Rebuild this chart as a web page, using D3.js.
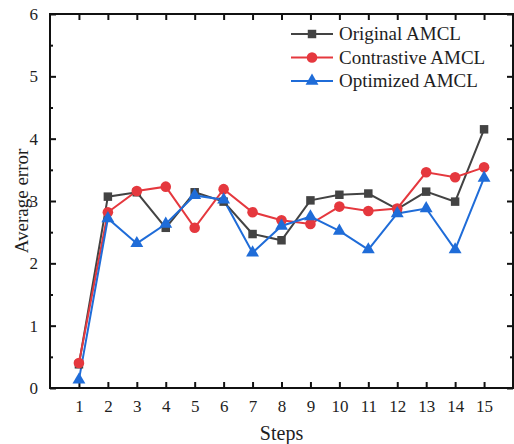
<!DOCTYPE html>
<html>
<head>
<meta charset="utf-8">
<script src="https://cdn.jsdelivr.net/npm/d3@7"></script>
<style>
  body { margin: 0; background: #fff; }
  svg text { font-family: "Liberation Serif", "Times New Roman", serif; fill: #1e1e1e; }
</style>
</head>
<body>
<svg id="chart" width="514" height="444"></svg>
<script>
const steps = d3.range(1, 16);
const originalAMCL = [0.38, 3.07, 3.14, 2.57, 3.14, 2.99, 2.47, 2.37, 3.01, 3.10, 3.12, 2.87, 3.15, 2.99, 4.15];
const contrastiveAMCL = [0.40, 2.82, 3.16, 3.23, 2.57, 3.19, 2.82, 2.69, 2.63, 2.91, 2.84, 2.88, 3.46, 3.38, 3.54];
const optimizedAMCL = [0.13, 2.72, 2.32, 2.63, 3.09, 3.02, 2.17, 2.60, 2.75, 2.52, 2.22, 2.80, 2.88, 2.22, 3.37];
const yTicks = [0, 1, 2, 3, 4, 5, 6];

const series = [
  { name: "Original AMCL", values: originalAMCL, color: "#434343", symbol: d3.symbolSquare, size: 72 },
  { name: "Contrastive AMCL", values: contrastiveAMCL, color: "#e5383e", symbol: d3.symbolCircle, size: 88 },
  { name: "Optimized AMCL", values: optimizedAMCL, color: "#1f6cd8", symbol: d3.symbolTriangle, size: 72 }
];

const margin = { top: 14, right: 1, bottom: 56, left: 50 };
const svg = d3.select("#chart");
const width = 514 - margin.left - margin.right;
const height = 444 - margin.top - margin.bottom;
const g = svg.append("g").attr("transform", `translate(${margin.left},${margin.top})`);

const x = d3.scaleLinear().domain([0, 16]).range([0, width]);
const y = d3.scaleLinear().domain([0, 6]).range([height, 0]);

// frame round the plot
g.append("rect")
  .attr("width", width).attr("height", height)
  .attr("fill", "none").attr("stroke", "#111").attr("stroke-width", 2);

const tickStyle = (sel) => {
  sel.select(".domain").remove();
  sel.selectAll("line").attr("stroke", "#111").attr("stroke-width", 2);
  sel.selectAll("text").attr("font-family", null);
};

// bottom axis, ticks pointing inward
g.append("g")
  .attr("transform", `translate(0,${height})`)
  .call(d3.axisBottom(x).tickValues(steps).tickSizeInner(-6).tickPadding(12).tickFormat(d3.format("d")))
  .call(tickStyle)
  .selectAll("text").style("font-size", "17px").attr("fill", "#1e1e1e");

// top mirror ticks
g.append("g")
  .call(d3.axisTop(x).tickValues(steps).tickSizeInner(-6).tickFormat(""))
  .call(tickStyle);

// left axis + minor ticks
g.append("g")
  .call(d3.axisLeft(y).tickValues(yTicks).tickSizeInner(-6).tickPadding(12).tickFormat(d3.format("d")))
  .call(tickStyle)
  .selectAll("text").style("font-size", "17px").attr("fill", "#1e1e1e");

g.append("g")
  .call(d3.axisLeft(y).tickValues(d3.range(0.5, 6, 1)).tickSizeInner(-3).tickFormat(""))
  .call(tickStyle);

// right mirror ticks
g.append("g")
  .attr("transform", `translate(${width},0)`)
  .call(d3.axisRight(y).tickValues(yTicks).tickSizeInner(-6).tickFormat(""))
  .call(tickStyle);
g.append("g")
  .attr("transform", `translate(${width},0)`)
  .call(d3.axisRight(y).tickValues(d3.range(0.5, 6, 1)).tickSizeInner(-3).tickFormat(""))
  .call(tickStyle);

// axis titles
svg.append("text")
  .attr("x", margin.left + x(8)).attr("y", 440)
  .attr("text-anchor", "middle").style("font-size", "20px")
  .text("Steps");

svg.append("text")
  .attr("transform", `translate(28,${margin.top + height / 2}) rotate(-90)`)
  .attr("text-anchor", "middle").style("font-size", "19px")
  .text("Average error");

// lines, then markers on top
const line = d3.line().x((d, i) => x(steps[i])).y((d) => y(d));

series.forEach((s) => {
  g.append("path")
    .datum(s.values)
    .attr("fill", "none")
    .attr("stroke", s.color)
    .attr("stroke-width", 2)
    .attr("d", line);
});

series.forEach((s) => {
  g.selectAll(null)
    .data(s.values)
    .enter()
    .append("path")
    .attr("d", d3.symbol().type(s.symbol).size(s.size))
    .attr("transform", (d, i) => `translate(${x(steps[i])},${y(d)})`)
    .attr("fill", s.color);
});

// legend
const legend = g.append("g").attr("transform", "translate(241,20)");
series.forEach((s, i) => {
  const row = legend.append("g").attr("transform", `translate(0,${i * 23.5})`);
  row.append("line")
    .attr("x1", 0).attr("x2", 42).attr("y1", 0).attr("y2", 0)
    .attr("stroke", s.color).attr("stroke-width", 2);
  row.append("path")
    .attr("d", d3.symbol().type(s.symbol).size(s.size))
    .attr("transform", "translate(21,0)")
    .attr("fill", s.color);
  row.append("text")
    .attr("x", 48).attr("y", 6)
    .style("font-size", "19px")
    .text(s.name);
});
</script>
</body>
</html>
